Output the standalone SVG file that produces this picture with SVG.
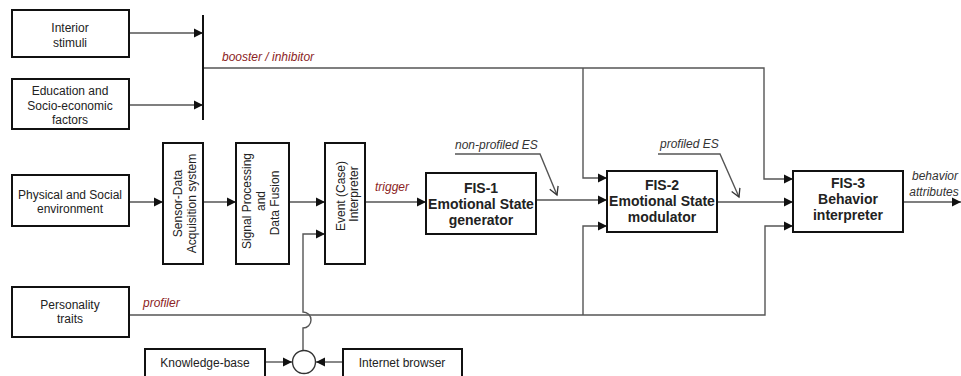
<svg xmlns="http://www.w3.org/2000/svg" width="961" height="376" viewBox="0 0 961 376">
<style>
.box{fill:#fff;stroke:#111;stroke-width:2}
.t{font-family:"Liberation Sans",Arial,sans-serif;font-size:12px;fill:#222;text-anchor:middle}
.b{font-family:"Liberation Sans",Arial,sans-serif;font-size:14px;font-weight:bold;fill:#222;text-anchor:middle}
.lr{font-family:"Liberation Sans",Arial,sans-serif;font-size:12px;font-style:italic;fill:#8b2323}
.lg{font-family:"Liberation Sans",Arial,sans-serif;font-size:12px;font-style:italic;fill:#333}
.c{fill:none;stroke:#555;stroke-width:1.4}
</style>
<defs>
<marker id="ah" markerWidth="10" markerHeight="10" refX="9" refY="5" orient="auto" markerUnits="userSpaceOnUse"><path d="M0,0.5 L9,5 L0,9.5 z" fill="#111"/></marker>
<marker id="vee" markerWidth="12" markerHeight="12" refX="9" refY="5" orient="auto" markerUnits="userSpaceOnUse"><path d="M1,0.5 L9,5 L1,9.5" fill="none" stroke="#333" stroke-width="1.3"/></marker>
</defs>
<rect width="961" height="376" fill="#fff"/>

<g id="connectors">
<path class="c" d="M129 33 H203" marker-end="url(#ah)"/>
<path class="c" d="M129 105 H203" marker-end="url(#ah)"/>
<path class="c" d="M203 68 H764 V179 H793" marker-end="url(#ah)"/>
<path class="c" d="M583 68 V178 H607" marker-end="url(#ah)"/>
<path class="c" d="M129 202 H163" marker-end="url(#ah)"/>
<path class="c" d="M203 202 H236" marker-end="url(#ah)"/>
<path class="c" d="M289 202 H325" marker-end="url(#ah)"/>
<path class="c" d="M365 202 H426" marker-end="url(#ah)"/>
<path class="c" d="M536 200 H607" marker-end="url(#ah)"/>
<path class="c" d="M717 202 H793" marker-end="url(#ah)"/>
<path class="c" d="M903 202 H961" marker-end="url(#ah)"/>
<path class="c" d="M129 315 H765 V226 H793" marker-end="url(#ah)"/>
<path class="c" d="M583 315 V226 H607" marker-end="url(#ah)"/>
<path class="c" d="M303 351 V328 A8 8 0 0 0 303 312 V234 H325" marker-end="url(#ah)"/>
<path class="c" d="M265 362 H292" marker-end="url(#ah)"/>
<path class="c" d="M343 362 H316" marker-end="url(#ah)"/>
<path class="c" d="M455 154 H540 L557 195" marker-end="url(#vee)"/>
<path class="c" d="M658 154 H720 L739 197" marker-end="url(#vee)"/>
<line x1="203" y1="15" x2="203" y2="120" stroke="#111" stroke-width="2"/>
<text class="lr" x="222" y="61">booster / inhibitor</text>
<text class="lr" x="375" y="191">trigger</text>
<text class="lr" x="143" y="307">profiler</text>
<text class="lg" x="455" y="149">non-profiled ES</text>
<text class="lg" x="660" y="148">profiled ES</text>
<text class="lg" x="935" y="180" text-anchor="middle">behavior</text>
<text class="lg" x="934" y="196" text-anchor="middle">attributes</text>
</g>

<g id="interior">
<rect class="box" x="12" y="10" width="117" height="47"/>
<text class="t" x="70" y="32">Interior</text>
<text class="t" x="70" y="47">stimuli</text>
</g>
<g id="education">
<rect class="box" x="12" y="79" width="117" height="50"/>
<text class="t" x="70" y="95">Education and</text>
<text class="t" x="70" y="110">Socio-economic</text>
<text class="t" x="70" y="124">factors</text>
</g>
<g id="physical">
<rect class="box" x="12" y="175" width="117" height="51"/>
<text class="t" x="70" y="199">Physical and Social</text>
<text class="t" x="70" y="213">environment</text>
</g>
<g id="personality">
<rect class="box" x="12" y="287" width="117" height="50"/>
<text class="t" x="70" y="309">Personality</text>
<text class="t" x="70" y="323">traits</text>
</g>
<g id="sensor">
<rect class="box" x="163" y="143" width="40" height="121"/>
<text class="t" transform="translate(182 203.5) rotate(-90)" x="0" y="0">Sensor-Data</text>
<text class="t" transform="translate(196 203.5) rotate(-90)" x="0" y="0">Acquisition system</text>
</g>
<g id="signal">
<rect class="box" x="236" y="143" width="53" height="121"/>
<text class="t" transform="translate(251 201) rotate(-90)" x="0" y="0">Signal Processing</text>
<text class="t" transform="translate(265 201) rotate(-90)" x="0" y="0">and</text>
<text class="t" transform="translate(279 203) rotate(-90)" x="0" y="0">Data Fusion</text>
</g>
<g id="event">
<rect class="box" x="325" y="143" width="40" height="121"/>
<text class="t" transform="translate(345 196) rotate(-90)" x="0" y="0">Event (Case)</text>
<text class="t" transform="translate(358 194) rotate(-90)" x="0" y="0">Interpreter</text>
</g>
<g id="fis1">
<rect class="box" x="426" y="173" width="110" height="61"/>
<text class="b" x="481" y="193">FIS-1</text>
<text class="b" x="481" y="209">Emotional State</text>
<text class="b" x="481" y="225">generator</text>
</g>
<g id="fis2">
<rect class="box" x="607" y="171" width="110" height="61"/>
<text class="b" x="662" y="190">FIS-2</text>
<text class="b" x="662" y="206">Emotional State</text>
<text class="b" x="662" y="222">modulator</text>
</g>
<g id="fis3">
<rect class="box" x="793" y="171" width="110" height="61"/>
<text class="b" x="848" y="188">FIS-3</text>
<text class="b" x="848" y="204">Behavior</text>
<text class="b" x="848" y="220">interpreter</text>
</g>
<g id="knowledge">
<rect class="box" x="145" y="349" width="120" height="36"/>
<text class="t" x="205" y="367">Knowledge-base</text>
</g>
<g id="internet">
<rect class="box" x="343" y="349" width="119" height="36"/>
<text class="t" x="402" y="367">Internet browser</text>
</g>
<g id="junction">
<circle cx="304" cy="362" r="11.5" fill="#fff" stroke="#333" stroke-width="1.4"/>
</g>
</svg>
